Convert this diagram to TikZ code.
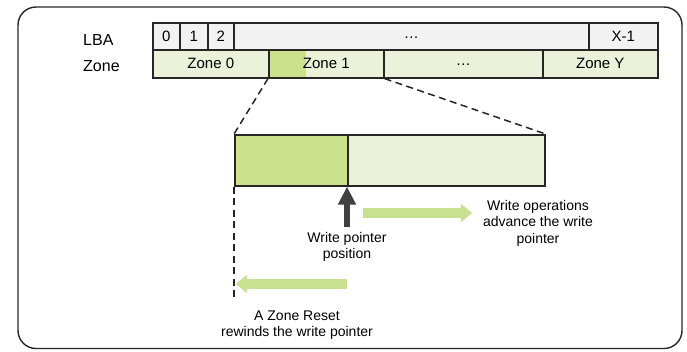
\documentclass[tikz,border=0pt]{standalone}
\usepackage{fontspec}
\setmainfont{Liberation Sans}
\usetikzlibrary{arrows.meta}
\definecolor{edge}{RGB}{38,38,38}
\definecolor{lbafill}{RGB}{242,242,242}
\definecolor{zlight}{RGB}{235,242,217}
\definecolor{zdark}{RGB}{204,225,140}
\definecolor{arrowgreen}{RGB}{200,225,145}
\definecolor{pointer}{RGB}{64,64,64}
\tikzset{
  cell/.style={draw=edge, line width=1.6pt, inner sep=0pt, anchor=north west,
    font=\fontsize{15}{17}\selectfont},
  lbacell/.style={cell, fill=lbafill, minimum height=27pt},
  zonecell/.style={cell, fill=zlight, minimum height=28pt},
  rowlabel/.style={anchor=west, inner sep=0pt, font=\fontsize{16}{18}\selectfont},
  note/.style={align=center, inner sep=0pt, font=\fontsize{14}{16.5}\selectfont},
  zoomline/.style={dashed, dash pattern=on 7pt off 4.5pt, line width=1.5pt, edge},
  greenarrow/.style={draw=arrowgreen, line width=10pt,
    -{Triangle[length=11pt,width=18pt]}},
}
\begin{document}
\begin{tikzpicture}[x=1pt,y=-1pt]
\useasboundingbox (0,0) rectangle (687,351);
% outer frame
\draw[edge, line width=1.4pt, rounded corners=18pt] (18,7) rectangle (682,348.5);

% row labels
\node[rowlabel] (lbalabel) at (83,40) {LBA};
\node[rowlabel] (zonelabel) at (83,66) {Zone};

% LBA row
\node[lbacell, minimum width=27pt] (l0) at (152,22) {0};
\node[lbacell, minimum width=28pt] (l1) at (179,22) {1};
\node[lbacell, minimum width=26pt] (l2) at (207,22) {2};
\node[lbacell, minimum width=355pt] (ldots) at (233,22) {\raisebox{-4pt}{\dots}};
\node[lbacell, minimum width=69pt] (lx) at (588,22) {X-1};

% zone row
\node[zonecell, minimum width=116pt] (z0) at (152,49) {Zone 0};
\node[zonecell, minimum width=115pt,
  path picture={\fill[zdark] (path picture bounding box.north west)
    rectangle ([xshift=37pt]path picture bounding box.south west);}]
  (z1) at (268,49) {Zone 1};
\node[zonecell, minimum width=159pt] (zdots) at (383,49) {\raisebox{-4pt}{\dots}};
\node[zonecell, minimum width=115pt] (zy) at (542,49) {Zone Y};

% zone 1 enlarged
\node[cell, fill=zdark, minimum width=113pt, minimum height=51pt] (written) at (234,134) {};
\node[cell, fill=zlight, minimum width=197pt, minimum height=51pt] (free) at (347,134) {};

% zoom guides
\draw[zoomline] (z1.south west) -- (written.north west);
\draw[zoomline] (z1.south east) -- (free.north east);
\coordinate (resetend) at (234,298);
\draw[zoomline] (written.south west) -- (resetend);

% write pointer
\coordinate (wpbase) at (347,227);
\draw[pointer, line width=6pt, -{Triangle[length=18pt,width=17pt]}]
  (wpbase) -- (free.south west);
\node[note] (wplabel) at (347,247) {Write pointer\\position};

% write advance
\coordinate (advstart) at (363,213);
\coordinate (advend) at (472,213);
\draw[greenarrow] (advstart) -- (advend);
\node[note] (advlabel) at (538,223) {Write operations\\advance the write\\pointer};

% zone reset
\coordinate (rststart) at (347,284);
\coordinate (rstend) at (236,284);
\draw[greenarrow] (rststart) -- (rstend);
\node[note] (rstlabel) at (297,325) {A Zone Reset\\rewinds the write pointer};
\end{tikzpicture}
\end{document}
